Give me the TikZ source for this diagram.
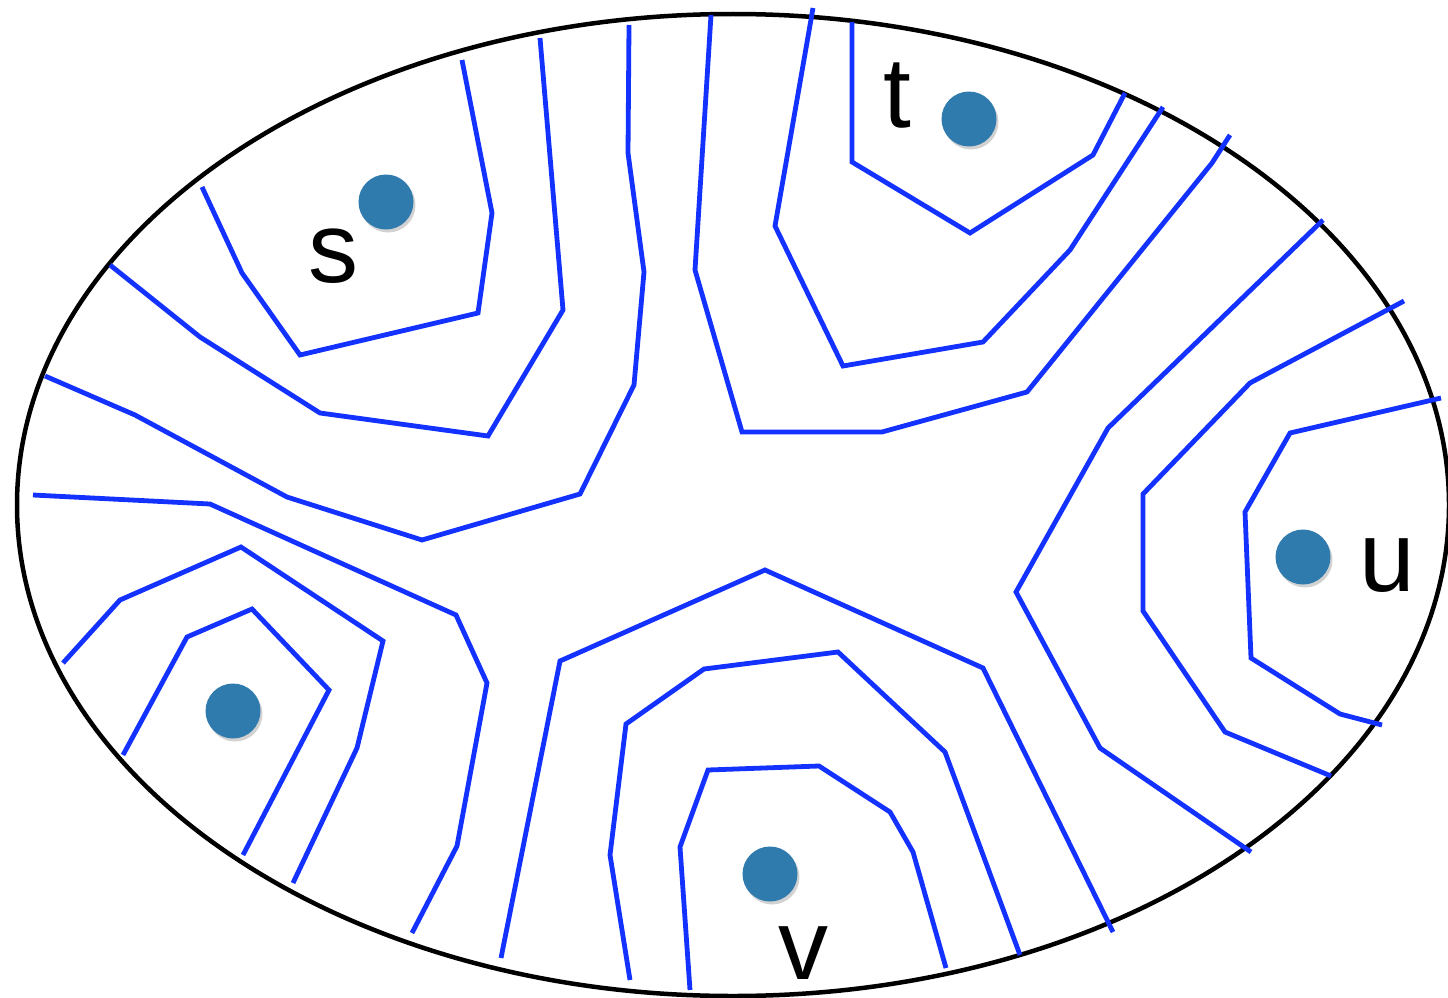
\documentclass[tikz,border=0pt]{standalone}
\usepackage{fontspec}
\setmainfont{Liberation Sans}
\usetikzlibrary{shadows}
\definecolor{contour}{RGB}{20,50,255}
\definecolor{dotblue}{RGB}{47,123,174}
\tikzset{
  level/.style={draw=contour, line width=4.8pt, line join=miter},
  site/.style={circle, fill=dotblue, minimum size=55pt, inner sep=0pt,
    drop shadow={opacity=0.35, shadow xshift=2pt, shadow yshift=-3pt}},
  lbl/.style={inner sep=0pt, font=\fontsize{100}{100}\selectfont}
}
\begin{document}
\begin{tikzpicture}[x=1pt, y=-1pt]
\useasboundingbox (0,0) rectangle (1448,998);
\fill[white] (0,0) rectangle (1448,998);

% boundary
\draw[line width=4.5pt] (733,505) ellipse [x radius=716, y radius=491];

% level curves around s
\draw[level] (202,187) -- (242,273) -- (300,355) -- (478,313) -- (492,213) -- (462,60);
\draw[level] (110,265) -- (200,337) -- (320,413) -- (488,436) -- (563,310) -- (540,38);
\draw[level] (45,376) -- (135,415) -- (287,497) -- (422,540) -- (580,494) -- (634,385) -- (644,272) -- (628,153) -- (629,25);

% level curves around t
\draw[level] (852,22) -- (852,162) -- (970,233) -- (1093,155) -- (1125,93);
\draw[level] (813,8) -- (775,226) -- (843,366) -- (983,342) -- (1070,250) -- (1163,107);
\draw[level] (711,15) -- (695,270) -- (742,432) -- (882,432) -- (1027,392) -- (1212,163) -- (1230,135);

% level curves around u
\draw[level] (1441,398) -- (1290,433) -- (1245,512) -- (1251,658) -- (1340,714) -- (1382,725);
\draw[level] (1404,301) -- (1250,383) -- (1143,494) -- (1143,611) -- (1225,732) -- (1331,776);
\draw[level] (1323,220) -- (1108,428) -- (1016,592) -- (1100,748) -- (1251,852);

% level curves around v
\draw[level] (690,990) -- (680,847) -- (708,770) -- (819,766) -- (890,812) -- (913,852) -- (946,968);
\draw[level] (630,980) -- (610,855) -- (626,724) -- (704,669) -- (838,652) -- (945,752) -- (1020,955);
\draw[level] (501,958) -- (560,661) -- (765,570) -- (983,668) -- (1113,932);

% level curves around the unlabelled site
\draw[level] (123,755) -- (187,637) -- (252,609) -- (329,690) -- (243,855);
\draw[level] (63,663) -- (120,600) -- (241,547) -- (383,641) -- (357,748) -- (293,883);
\draw[level] (33,495) -- (210,504) -- (456,615) -- (487,683) -- (457,846) -- (412,933);

% sites
\node[site] (s) at (386,202) {};
\node[site] (t) at (969,119) {};
\node[site] (u) at (1303,557) {};
\node[site] (v) at (770,874) {};
\node[site] (w) at (233,711) {};

% labels
\node[lbl] (ls) at (333,256) {s};
\node[lbl] (lt) at (897,96) {t};
\node[lbl] (lu) at (1387,566) {u};
\node[lbl] (lv) at (803,953) {v};
\end{tikzpicture}
\end{document}
